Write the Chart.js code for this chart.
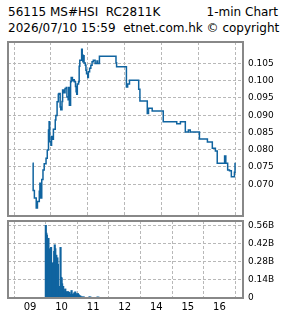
<!DOCTYPE html>
<html>
<head>
<meta charset="utf-8">
<script src="https://cdn.jsdelivr.net/npm/chart.js@4.4.1/dist/chart.umd.min.js"></script>
<style>
body { margin: 0; background: #fff; width: 285px; height: 318px; overflow: hidden; position: relative; font-family: "DejaVu Sans", sans-serif; }
.title { position: absolute; font-size: 12px; line-height: 16px; color: #000; white-space: pre; }
canvas { position: absolute; left: 0; }
#priceChart { top: 38px; }
#volChart { top: 218px; }
</style>
</head>
<body>
<div class="title" style="left:8px; top:4px;">56115 MS#HSI  RC2811K</div>
<div class="title" style="right:7px; top:4px;">1-min Chart</div>
<div class="title" style="left:8px; top:20px;">2026/07/10 15:59  etnet.com.hk © copyright</div>
<canvas id="priceChart" width="285" height="180"></canvas>
<canvas id="volChart" width="285" height="100"></canvas>
<script>
// x positions are trading minutes from 09:00, lunch (12:00-13:00) removed
const xTickMinutes = [0, 60, 120, 180, 240, 300, 360];
const xTickLabels = ['09', '10', '11', '12', '14', '15', '16'];

const priceTicks = [0.070, 0.075, 0.080, 0.085, 0.090, 0.095, 0.100, 0.105];
const volTicks = [0, 0.14, 0.28, 0.42, 0.56];

const priceMinutes = [30, 31, 33, 36, 38, 41, 42, 43, 45, 47, 49, 52, 54, 56, 57, 58, 60, 61, 63, 64,
    67, 68, 70, 72, 73, 75, 76, 78, 79, 81, 83, 85, 86, 88, 89, 90, 92, 93, 95, 96,
    98, 100, 101, 102, 103, 105, 106, 107, 110, 111, 112, 113, 114, 116, 117, 118, 120, 121, 123, 125,
    127, 129, 132, 135, 136, 139, 166, 167, 183, 185, 188, 203, 205, 217, 219, 225, 243, 265, 271, 279,
    284, 287, 302, 315, 323, 328, 331, 343, 345, 348, 351, 354, 359, 360];
const prices = [0.0761, 0.0682, 0.0660, 0.0631, 0.0650, 0.0680, 0.0703, 0.0660, 0.0714, 0.0741, 0.0759, 0.0775, 0.0799, 0.0857, 0.0881, 0.0823, 0.0813, 0.0838, 0.0830, 0.0859,
    0.0886, 0.0899, 0.0939, 0.0961, 0.0963, 0.0924, 0.0916, 0.0940, 0.0973, 0.0965, 0.0977, 0.0980, 0.0953, 0.0945, 0.0980, 0.0929, 0.0997, 0.1009, 0.1000, 0.1003,
    0.0997, 0.0983, 0.0968, 0.0961, 0.0990, 0.0997, 0.1042, 0.1059, 0.1091, 0.1074, 0.1055, 0.1072, 0.1051, 0.1045, 0.1030, 0.1020, 0.1009, 0.1026, 0.1036, 0.1045,
    0.1055, 0.1059, 0.1050, 0.1057, 0.1050, 0.1071, 0.1052, 0.1040, 0.0982, 0.0990, 0.1001, 0.0975, 0.0941, 0.0905, 0.0920, 0.0912, 0.0881, 0.0875, 0.0881, 0.0851,
    0.0857, 0.0851, 0.0831, 0.0822, 0.0804, 0.0796, 0.0761, 0.0782, 0.0761, 0.0741, 0.0739, 0.0722, 0.0735, 0.0762];

// volume in billions
const volMinutes = [30, 31, 32, 33, 35, 36, 38, 39, 40, 41, 42, 43, 45, 46, 47, 48, 49, 50, 51, 52,
    53, 54, 55, 57, 58, 59, 60, 61, 63, 64, 65, 67, 69, 70, 72, 73, 75, 77, 79, 81,
    82, 84, 86, 87, 89, 91, 93, 94, 96, 99, 102, 113, 115, 128, 130];
const volumes = [0.56, 0.50, 0.485, 0.258, 0.46, 0.38, 0.34, 0.37, 0.39, 0.26, 0.27, 0.26, 0.275, 0.36, 0.41, 0.38, 0.27, 0.33, 0.30, 0.31,
    0.26, 0.046, 0.01, 0.09, 0.39, 0.16, 0.155, 0.11, 0.09, 0.065, 0.045, 0.07, 0.05, 0.037, 0.05, 0.037, 0.045, 0.03, 0.058, 0.03,
    0.025, 0.04, 0.048, 0.035, 0.025, 0.035, 0.025, 0.02, 0.015, 0.01, 0.01, 0.01, 0.008, 0.008, 0.008];

const blue = '#1064a0';
const gridColor = '#b8b8b8';

// draws the grey box round the plot area
const framePlugin = {
    id: 'frame',
    afterDraw(chart) {
        const { ctx, chartArea: a } = chart;
        ctx.save();
        ctx.strokeStyle = '#888';
        ctx.lineWidth = 2;
        ctx.strokeRect(a.left, a.top, a.right - a.left, a.bottom - a.top);
        ctx.restore();
    }
};

function xScale(showLabels) {
    return {
        type: 'linear',
        min: -10,
        max: 373,
        afterBuildTicks: s => { s.ticks = xTickMinutes.map(v => ({ value: v })); },
        afterFit: s => { s.height = showLabels ? 20 : 0; s.paddingLeft = 0; s.paddingRight = 0; },
        grid: { color: gridColor, drawTicks: false },
        border: { display: false, dash: [3, 2] },
        ticks: {
            display: showLabels,
            autoSkip: false,
            maxRotation: 0,
            padding: 3,
            color: '#000',
            font: { family: 'DejaVu Sans', size: 10 },
            callback: (v, i) => xTickLabels[i]
        }
    };
}

function yScale(min, max, tickList, fmt) {
    return {
        type: 'linear',
        position: 'right',
        min,
        max,
        afterBuildTicks: s => { s.ticks = tickList.map(v => ({ value: v })); },
        afterFit: s => { s.width = 42; s.paddingTop = 0; s.paddingBottom = 0; },
        grid: { color: gridColor, drawTicks: false },
        border: { display: false, dash: [3, 2] },
        ticks: {
            autoSkip: false,
            padding: 5,
            color: '#000',
            font: { family: 'DejaVu Sans', size: 9 },
            callback: fmt
        }
    };
}

new Chart(document.getElementById('priceChart'), {
    type: 'line',
    data: {
        datasets: [{
            data: priceMinutes.map((m, i) => ({ x: m, y: prices[i] })),
            borderColor: blue,
            borderWidth: 1.5,
            pointRadius: 0,
            stepped: true,
            fill: false
        }]
    },
    options: {
        responsive: false,
        animation: false,
        layout: { padding: { left: 8, top: 4, right: 0, bottom: 2 } },
        plugins: { legend: { display: false }, tooltip: { enabled: false } },
        scales: {
            x: xScale(false),
            y: yScale(0.0608, 0.1112, priceTicks, v => v.toFixed(3))
        }
    },
    plugins: [framePlugin]
});

new Chart(document.getElementById('volChart'), {
    type: 'bar',
    data: {
        datasets: [{
            data: volMinutes.map((m, i) => ({ x: m, y: volumes[i] })),
            backgroundColor: blue,
            barThickness: 1.5
        }]
    },
    options: {
        responsive: false,
        animation: false,
        layout: { padding: { left: 8, top: 3, right: 0, bottom: 0 } },
        plugins: { legend: { display: false }, tooltip: { enabled: false } },
        scales: {
            x: xScale(true),
            y: yScale(0, 0.593, volTicks, v => v === 0 ? '0' : v.toFixed(2) + 'B')
        }
    },
    plugins: [framePlugin]
});
</script>
</body>
</html>
